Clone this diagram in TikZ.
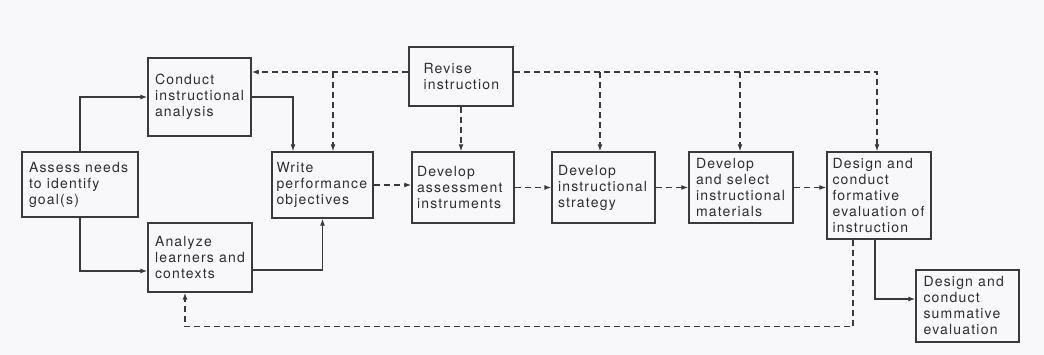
\documentclass[tikz,border=0pt]{standalone}
\usepackage{fontspec}
\setmainfont{TeX Gyre Heros}[LetterSpace=8.5]
\usetikzlibrary{arrows.meta,calc}
\definecolor{ink}{HTML}{3A3A3A}
\definecolor{bg}{HTML}{F8F8FA}
\tikzset{
  box/.style={draw=ink, line width=1.4pt, rectangle, inner sep=0pt},
  txt/.style={align=left, inner sep=0pt, anchor=west, font=\fontsize{14}{16}\selectfont, text=black!82},
  solidarrow/.style={draw=ink, line width=1.3pt, -{Latex[length=7pt,width=5pt]}},
  dasharrow/.style={draw=ink, line width=1.3pt, dash pattern=on 6pt off 4pt, -{Latex[length=7pt,width=5pt]}}
}
\newcommand{\bx}[7]{% name, cx, cy, w, h, inset, text
  \node[box, minimum width=#4pt, minimum height=#5pt] (#1) at (#2,#3) {};
  \node[txt] (#1-t) at ([xshift=#6pt]#1.west) {#7};}
\begin{document}
\begin{tikzpicture}[x=1pt,y=-1pt]
\fill[bg] (0,0) rectangle (1044,355);
\useasboundingbox (0,0) rectangle (1044,355);
\bx{assess}{80}{184.5}{116}{65}{7.5}{Assess needs\\to identify\\goal(s)}
\bx{conduct}{199.5}{97}{103}{78}{7.5}{Conduct\\instructional\\analysis}
\bx{analyze}{200}{257.5}{104}{69}{7.5}{Analyze\\learners and\\contexts}
\bx{write}{322.5}{185}{101}{66}{5}{Write\\performance\\objectives}
\bx{revise}{461}{76.5}{104}{59}{15}{Revise\\instruction}
\bx{assessment}{463}{187.5}{102}{71}{5.5}{Develop\\assessment\\instruments}
\bx{strategy}{603.5}{187.5}{103}{71}{6.5}{Develop\\instructional\\strategy}
\bx{materials}{741}{187.5}{104}{71}{7.5}{Develop\\and select\\instructional\\materials}
\bx{formative}{879}{195.5}{104}{87}{6}{Design and\\conduct\\formative\\evaluation of\\instruction}
\bx{summative}{967.5}{306}{103}{72}{8}{Design and\\conduct\\summative\\evaluation}
% solid connectors
\draw[solidarrow] (assess.north) |- (conduct.west);
\draw[solidarrow] (assess.south) |- ([yshift=-13.5pt]analyze.west);
\draw[solidarrow] (conduct.east) -| ([xshift=-29.5pt]write.north);
\draw[solidarrow] ([yshift=-12.5pt]analyze.east) -| (write.south);
\draw[solidarrow] ([xshift=-4pt]formative.south) |- ([yshift=7pt]summative.west);
% dashed feedback from revise
\coordinate (rw) at ([yshift=4.5pt]revise.west);
\coordinate (re) at ([yshift=4.5pt]revise.east);
\coordinate (wn) at ([xshift=10.5pt]write.north);
\coordinate (sn) at ([xshift=-3.5pt]strategy.north);
\coordinate (mn) at ([xshift=-1pt]materials.north);
\coordinate (fn) at ([xshift=-2pt]formative.north);
\draw[dasharrow] (rw) -- (rw -| conduct.east);
\draw[dasharrow] (rw -| wn) -- (wn);
\draw[dasharrow] (revise.south) -- (revise.south |- assessment.north);
\draw[dasharrow] (re) -| (fn);
\draw[dasharrow] (re -| sn) -- (sn);
\draw[dasharrow] (re -| mn) -- (mn);
% dashed main flow
\draw[dasharrow] (write.east) -- (write.east -| assessment.west);
\draw[dasharrow] (assessment.east) -- (strategy.west);
\draw[dasharrow] (strategy.east) -- (materials.west);
\draw[dasharrow] (materials.east) -- (materials.east -| formative.west);
% bottom feedback loop
\coordinate (fs) at ([xshift=-26pt]formative.south);
\coordinate (as) at ([xshift=-15pt]analyze.south);
\coordinate (fb) at ([yshift=-87pt]fs);
\draw[dasharrow] (fs) -- (fb) -- (fb -| as) -- (as);
\end{tikzpicture}
\end{document}
